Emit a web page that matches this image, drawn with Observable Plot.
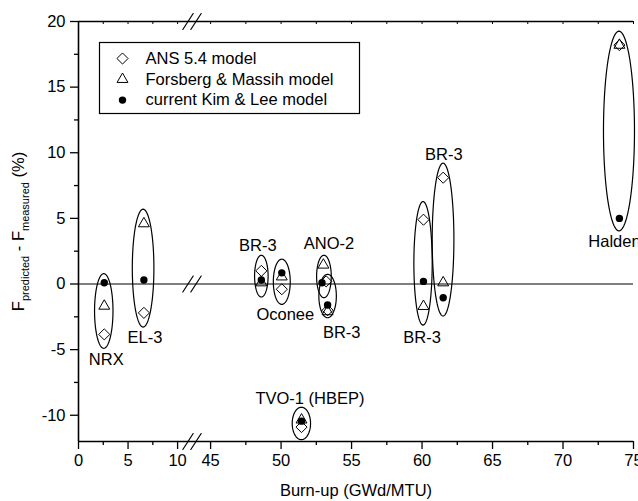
<!DOCTYPE html>
<html><head><meta charset="utf-8">
<script src="https://cdn.jsdelivr.net/npm/d3@7"></script>
<script src="https://cdn.jsdelivr.net/npm/@observablehq/plot@0.6"></script>
<style>body{margin:0;background:#fff;} svg{display:block;}</style>
</head><body><div id="chart"></div>
<script>
// ---- data ----
const experiments = ["NRX","EL-3","BR-3 (a)","Oconee","ANO-2","BR-3 (b)","TVO-1 (HBEP)","BR-3 (c)","BR-3 (d)","Halden"];
const burnupANS = [2.6, 6.6, 48.6, 50.05, 53.2, 53.3, 51.45, 60.1, 61.5, 74.0];
const ans54     = [-3.84, -2.2, 1.0, -0.4, 0.2, -2.0, -10.9, 4.9, 8.1, 18.2];
const burnupFM  = [2.6, 6.6, 48.6, 50.05, 53.0, 53.3, 51.45, 60.1, 61.5, 74.0];
const forsberg  = [-1.68, 4.6, 0.1, 0.55, 1.45, -2.1, -10.35, -1.7, 0.1, 18.2];
const burnupKL  = [2.6, 6.6, 48.6, 50.05, 52.9, 53.3, 51.45, 60.1, 61.5, 74.0];
const kimLee    = [0.1, 0.3, 0.3, 0.85, 0.1, -1.6, -10.45, 0.2, -1.05, 5.0];

// enclosing ellipses (annotation)
const ellipseCenterX   = [2.55, 6.52, 48.6, 50.05, 53.04, 53.3, 51.44, 60.07, 61.49, 73.97];
const ellipseHalfWidth = [0.93, 1.09, 0.48, 0.6, 0.52, 0.62, 0.65, 0.65, 0.77, 1.1];
const ellipseTop       = [0.79, 5.7, 2.19, 1.89, 2.19, 0.74, -9.39, 6.28, 9.21, 19.26];
const ellipseBottom    = [-4.9, -3.28, -0.99, -1.55, -1.04, -2.57, -11.86, -3.13, -2.44, 4.05];

// experiment labels
const labelText = ["NRX","EL-3","BR-3","Oconee","ANO-2","BR-3","TVO-1 (HBEP)","BR-3","BR-3","Halden"];
const labelX    = [2.8, 6.7, 48.35, 50.3, 53.4, 54.3, 52.05, 60.0, 61.55, 73.65];
const labelY    = [-5.8, -4.1, 2.95, -2.35, 3.1, -3.72, -8.74, -4.07, 9.86, 3.2];

const legendLabels = ["ANS 5.4 model", "Forsberg & Massih model", "current Kim & Lee model"];
const legendSymbols = ["diamond2", "triangle2", "circle"];

const xMajorTicks = [0, 5, 10, 45, 50, 55, 60, 65, 70, 75];
const xMinorTicks = [2.5, 7.5, 47.5, 52.5, 57.5, 62.5, 67.5, 72.5];
const yMajorTicks = [-10, -5, 0, 5, 10, 15, 20];
const yMinorTicks = [-7.5, -2.5, 2.5, 7.5, 12.5, 17.5];
const topTicks = [2.5, 5, 7.5, 10, 45, 47.5, 50, 52.5, 55, 57.5, 60, 62.5, 65, 67.5, 70, 72.5, 75];
const breakLevels = [20, 0, -12];
const breakX = 27.5; // middle of the axis gap (10 .. 45)

const xTitle = "Burn-up (GWd/MTU)";
const yTitle = "F predicted - F measured (%)";
const yTitleParts = [["F", 0], ["predicted", 1], [" - F", 0], ["measured", 1], [" (%)", 0]];

// ---- build tables ----
const ansData = experiments.map((e, i) => ({e, x: burnupANS[i], y: ans54[i]}));
const fmData  = experiments.map((e, i) => ({e, x: burnupFM[i], y: forsberg[i]}));
const klData  = experiments.map((e, i) => ({e, x: burnupKL[i], y: kimLee[i]}));
const labels  = labelText.map((t, i) => ({t, x: labelX[i], y: labelY[i]}));
const ellipsePts = [];
experiments.forEach((e, i) => {
  const cx = ellipseCenterX[i], rx = ellipseHalfWidth[i];
  const cy = (ellipseTop[i] + ellipseBottom[i]) / 2, ry = (ellipseTop[i] - ellipseBottom[i]) / 2;
  for (let k = 0; k <= 96; k++) {
    const t = 2 * Math.PI * k / 96;
    ellipsePts.push({g: e, x: cx + rx * Math.cos(t), y: cy + ry * Math.sin(t)});
  }
});

const slash = {draw(ctx, l) { ctx.moveTo(0, 0); ctx.lineTo(0, -l); }};
const font = "'Liberation Sans', Arial, Helvetica, sans-serif";
const FS = 16.5;

const legendMarks = [];
legendLabels.forEach((lab, i) => {
  const dy = 37 + i * 20.8;
  legendMarks.push(Plot.dot([lab], {frameAnchor: "top-left", dx: 44, dy, symbol: legendSymbols[i],
    r: i === 2 ? 3.7 : (i === 0 ? 5 : 5.2), stroke: i === 2 ? "none" : "black", fill: i === 2 ? "black" : "none", strokeWidth: 1}));
  legendMarks.push(Plot.text([lab], {frameAnchor: "top-left", dx: 67, dy, text: d => d, textAnchor: "start", lineAnchor: "middle", fontSize: FS}));
});

const plot = Plot.plot({
  width: 638, height: 501,
  marginLeft: 78, marginRight: 5, marginTop: 21, marginBottom: 60,
  style: {fontFamily: font, background: "white", color: "black"},
  x: {type: "linear", domain: [0, 11, 44, 75], range: [78, 187, 196, 633]},
  y: {domain: [-12, 20]},
  marks: [
    // frame lines
    Plot.ruleY([0], {stroke: "black", strokeWidth: 1}),
    Plot.ruleY([20], {stroke: "black", strokeWidth: 1.3}),
    Plot.ruleY([-12], {stroke: "black", strokeWidth: 1.6}),
    Plot.ruleX([0], {stroke: "black", strokeWidth: 1.6}),
    Plot.ruleX(topTicks, {x: d => d, y1: 20, y2: 19.77, stroke: "black", strokeWidth: 1}),
    // axes
    Plot.axisX(xMajorTicks, {anchor: "bottom", tickSize: 8, tickPadding: 5, fontSize: FS, tickFormat: d => String(d), label: null, strokeWidth: 1.3}),
    Plot.axisX(xMinorTicks, {anchor: "bottom", tickSize: 4, fill: "none", label: null, strokeWidth: 1.3}),
    Plot.axisY(yMajorTicks, {anchor: "left", tickSize: 8, tickPadding: 5, fontSize: FS, tickFormat: d => String(d), label: null, strokeWidth: 1.3}),
    Plot.axisY(yMinorTicks, {anchor: "left", tickSize: 4, fill: "none", label: null, strokeWidth: 1.3}),
    // axis break marks
    Plot.vector(breakLevels, {x: breakX, y: d => d, length: 19, rotate: 33, anchor: "middle", shape: slash, dx: -4, stroke: "black", strokeWidth: 1.2}),
    Plot.vector(breakLevels, {x: breakX, y: d => d, length: 19, rotate: 33, anchor: "middle", shape: slash, dx: 4, stroke: "black", strokeWidth: 1.2}),
    // ellipses
    Plot.line(ellipsePts, {x: "x", y: "y", z: "g", stroke: "black", strokeWidth: 1.2}),
    // data
    Plot.dot(ansData, {x: "x", y: "y", symbol: "diamond2", r: 5, stroke: "black", fill: "none", strokeWidth: 1}),
    Plot.dot(fmData, {x: "x", y: "y", symbol: "triangle2", r: 5.2, stroke: "black", fill: "none", strokeWidth: 1}),
    Plot.dot(klData, {x: "x", y: "y", symbol: "circle", r: 3.7, fill: "black", stroke: "none"}),
    // labels
    Plot.text(labels, {x: "x", y: "y", text: "t", fontSize: FS, lineAnchor: "middle"}),
    // legend
    Plot.frame({stroke: "black", strokeWidth: 1.2, insetLeft: 21, insetTop: 21, insetRight: 274, insetBottom: 328}),
    ...legendMarks,
    // titles
    Plot.text([xTitle], {frameAnchor: "bottom", dy: 49, text: d => d, fontSize: FS, lineAnchor: "middle"}),
    Plot.text([yTitle], {frameAnchor: "left", dx: -60, rotate: -90, text: d => d, fontSize: FS, textAnchor: "middle", lineAnchor: "middle"})
  ]
});
document.getElementById("chart").appendChild(plot);

// rich y title with subscripts
const yt = Array.from(plot.querySelectorAll("text")).find(t => t.textContent === yTitle);
if (yt) {
  yt.textContent = "";
  let prevSub = 0;
  for (const [s, sub] of yTitleParts) {
    const ts = document.createElementNS("http://www.w3.org/2000/svg", "tspan");
    ts.textContent = s;
    if (sub) { ts.setAttribute("font-size", "11"); ts.setAttribute("dy", "5"); }
    else if (prevSub) { ts.setAttribute("dy", "-5"); }
    prevSub = sub;
    yt.appendChild(ts);
  }
}
</script>
</body></html>
